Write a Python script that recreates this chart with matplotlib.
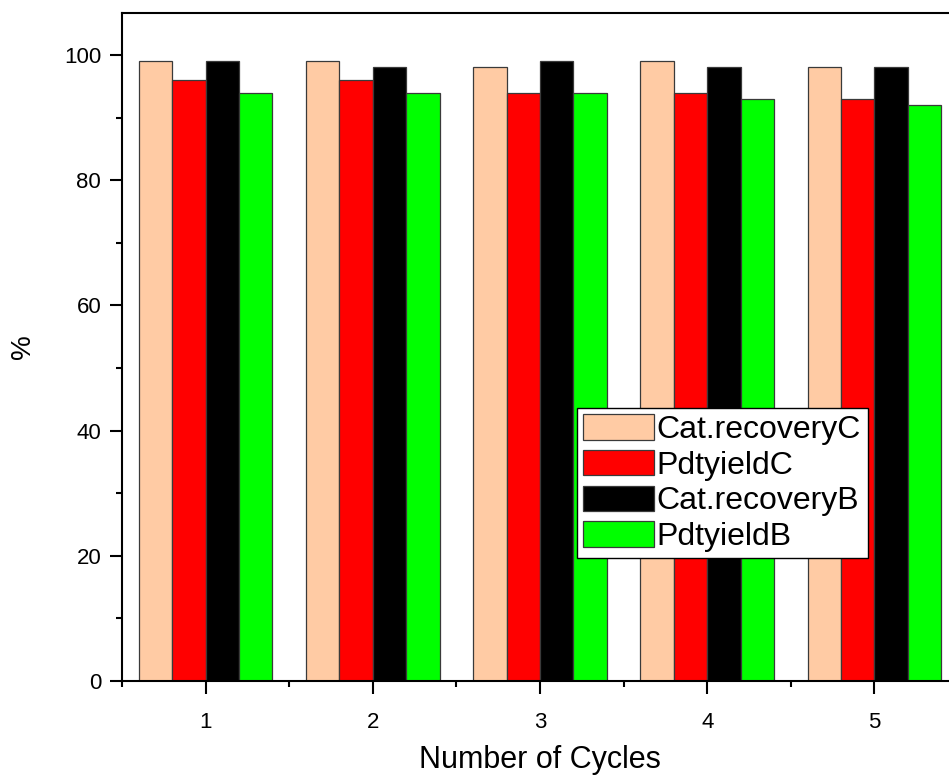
import numpy as np
import matplotlib.pyplot as plt
from matplotlib.ticker import MultipleLocator

plt.rcParams['font.family'] = ['Liberation Sans', 'DejaVu Sans']

cycles = [1, 2, 3, 4, 5]
cat_recovery_c = [99, 99, 98, 99, 98]
pdt_yield_c = [96, 96, 94, 94, 93]
cat_recovery_b = [99, 98, 99, 98, 98]
pdt_yield_b = [94, 94, 94, 93, 92]

series = [
    ("Cat.recoveryC", cat_recovery_c, "#FFCBA4"),
    ("PdtyieldC", pdt_yield_c, "#FF0000"),
    ("Cat.recoveryB", cat_recovery_b, "#000000"),
    ("PdtyieldB", pdt_yield_b, "#00FF00"),
]

fig = plt.figure(figsize=(9.49, 7.76), dpi=100)
# right edge of the axes runs slightly past the image, as in the reference
ax = fig.add_axes([122 / 949, 1 - 681 / 776, 836 / 949, 668 / 776])

x = np.array(cycles)
width = 0.2
for i, (name, vals, col) in enumerate(series):
    ax.bar(x + (i - 1.5) * width, vals, width, color=col, edgecolor="#3a3a3a",
           linewidth=0.9, label=name)

ax.set_xlim(0.5, 5.5)
ax.set_ylim(0, 106.7)
ax.set_xticks(cycles)
ax.xaxis.set_minor_locator(MultipleLocator(0.5))
ax.yaxis.set_major_locator(MultipleLocator(20))
ax.yaxis.set_minor_locator(MultipleLocator(10))
ax.tick_params(which="major", direction="out", length=9, width=1.5, labelsize=16)
ax.tick_params(which="minor", direction="out", length=4.5, width=1.5)
ax.tick_params(axis="x", pad=13)
ax.tick_params(axis="y", pad=6)
for s in ax.spines.values():
    s.set_linewidth(1.5)

ax.set_xlabel("Number of Cycles", fontsize=22, va="center")
ax.xaxis.set_label_coords(0.5, -0.118)
ax.set_ylabel("%", fontsize=20, va="center")
ax.yaxis.set_label_coords(-0.119, 0.5)

leg = ax.legend(loc="upper left", bbox_to_anchor=(577 / 949, 1 - 408 / 776),
                bbox_transform=fig.transFigure, fontsize=23, frameon=True,
                fancybox=False, edgecolor="black", framealpha=1,
                handlelength=2.2, handleheight=0.85, labelspacing=0.15,
                handletextpad=0.1, borderpad=0.2, borderaxespad=0)
leg.get_frame().set_linewidth(1.0)

fig.savefig("out.png", dpi=100)
